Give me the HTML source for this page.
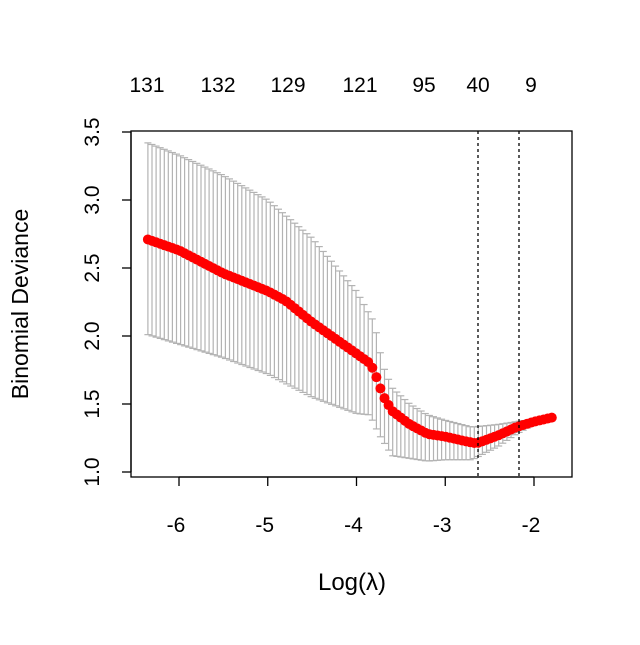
<!DOCTYPE html><html><head><style>body{margin:0;background:#fff}</style></head><body>
<svg id="s" width="640" height="640" xmlns="http://www.w3.org/2000/svg" font-family="Liberation Sans, sans-serif" font-size="21">
<rect x="131" y="131" width="441" height="346" fill="none" stroke="#000" stroke-width="1.3"/>
<g id="eb" stroke="#b3b3b3" stroke-width="1.2"></g>
<g id="pts" fill="#f00"></g>
<line x1="478" y1="131" x2="478" y2="477" stroke="#000" stroke-width="1.3" stroke-dasharray="3,3"/>
<line x1="519" y1="131" x2="519" y2="477" stroke="#000" stroke-width="1.3" stroke-dasharray="3,3"/>
<g stroke="#000" stroke-width="1.3">
<line x1="131" y1="132" x2="131" y2="472"/>
<line x1="179" y1="477" x2="534" y2="477"/>
</g>
<g id="ax"></g>
<g text-anchor="middle">
<text x="147" y="92">131</text><text x="218" y="92">132</text><text x="288" y="92">129</text><text x="360" y="92">121</text><text x="424" y="92">95</text><text x="478" y="92">40</text><text x="531" y="92">9</text>
<text x="352" y="590" font-size="24">Log(λ)</text>
<text transform="translate(28,304) rotate(-90)" font-size="23">Binomial Deviance</text>
</g>
</svg>
<script>
const X=L=>534+(L+2)*88.75, Y=v=>132+(3.5-v)*136;
function interp(p,L){for(let i=0;i<p.length-1;i++){if(L<=p[i+1][0]){const t=(L-p[i][0])/(p[i+1][0]-p[i][0]);return p[i][1]+t*(p[i+1][1]-p[i][1]);}}return p[p.length-1][1];}
const m=[[-6.35,2.71],[-6,2.63],[-5.5,2.46],[-5,2.33],[-4.8,2.26],[-4.5,2.1],[-4,1.87],[-3.85,1.8],[-3.8,1.74],[-3.7,1.56],[-3.6,1.45],[-3.4,1.35],[-3.2,1.28],[-3,1.26],[-2.8,1.23],[-2.65,1.21],[-2.4,1.27],[-2.2,1.33],[-2,1.37],[-1.8,1.4]];
const u=[[-6.35,3.42],[-6,3.33],[-5.5,3.18],[-5,3.0],[-4.5,2.72],[-4,2.33],[-3.8,2.1],[-3.7,1.78],[-3.6,1.62],[-3.4,1.5],[-3.2,1.42],[-3,1.38],[-2.7,1.33],[-2.4,1.35],[-2,1.39],[-1.8,1.41]];
const l=[[-6.35,2.01],[-6,1.94],[-5.5,1.84],[-5,1.72],[-4.5,1.55],[-4,1.43],[-3.85,1.42],[-3.75,1.28],[-3.6,1.12],[-3.2,1.08],[-3,1.09],[-2.7,1.09],[-2.4,1.19],[-2.2,1.28],[-2,1.35],[-1.8,1.39]];
let eb='',pts='';const n=100;
for(let i=0;i<n;i++){const L=-6.35+i*(4.55/(n-1));const x=X(L).toFixed(1);const yu=Y(interp(u,L)),yl=Y(interp(l,L));
eb+=`<line x1="${x}" y1="${yu}" x2="${x}" y2="${yl}"/><line x1="${x-3.5}" y1="${yu}" x2="${+x+3.5}" y2="${yu}"/><line x1="${x-3.5}" y1="${yl}" x2="${+x+3.5}" y2="${yl}"/>`;
pts+=`<circle cx="${x}" cy="${Y(interp(m,L))}" r="5"/>`;}
document.getElementById('eb').innerHTML=eb;document.getElementById('pts').innerHTML=pts;
let ax='';[1,1.5,2,2.5,3,3.5].forEach(v=>{const y=Y(v);ax+=`<line x1="122" y1="${y}" x2="131" y2="${y}" stroke="#000" stroke-width="1.3"/><text transform="translate(99,${y}) rotate(-90)" text-anchor="middle" font-size="21">${v.toFixed(1)}</text>`});
[-6,-5,-4,-3,-2].forEach(L=>{const x=X(L);ax+=`<line x1="${x}" y1="477" x2="${x}" y2="486" stroke="#000" stroke-width="1.3"/><text x="${x-3}" y="532" text-anchor="middle" font-size="21">${L}</text>`});
document.getElementById('ax').innerHTML=ax;
</script></body></html>
